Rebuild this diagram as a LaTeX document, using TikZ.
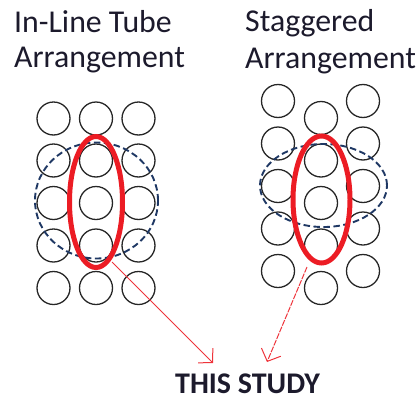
\documentclass[tikz,border=0pt]{standalone}
\usepackage{fontspec}
\setmainfont{Carlito}
\usetikzlibrary{arrows.meta,shapes.geometric}
\definecolor{tubered}{RGB}{236,28,36}
\definecolor{zonenavy}{RGB}{31,56,100}
\definecolor{inkdark}{RGB}{28,26,44}
\begin{document}
\begin{tikzpicture}[x=1pt,y=-1pt,
  tube/.style={circle,draw=black!85,line width=1.3pt,minimum size=33pt,inner sep=0pt},
  studyband/.style={ellipse,draw=tubered,line width=5pt,inner sep=0pt},
  zone/.style={ellipse,draw=zonenavy,line width=1.9pt,dash pattern=on 6.5pt off 3.5pt,inner sep=0pt},
  heading/.style={anchor=base west,inner sep=0pt,font=\fontsize{31.8}{32}\selectfont,text=inkdark},
  pointer/.style={draw=tubered!90,line width=1pt,-{Straight Barb[length=10pt,width=21pt,line width=1pt]}}]
\useasboundingbox (0,0) rectangle (420,399);

% headings
\node[heading] (h1a) at (14,32) {In-Line Tube};
\node[heading] (h1b) at (14,67) {Arrangement};
\node[heading] (h2a) at (245,31) {Staggered};
\node[heading] (h2b) at (245,68) {Arrangement};

% in-line bank: 3 columns x 5 rows
\foreach \c/\x in {1/53.5,2/96,3/138.5}
  \foreach \r/\y in {1/118.5,2/160.5,3/203,4/245.5,5/288}
    \node[tube] (il\c\r) at (\x,\y) {};

% staggered bank: outer columns and shifted middle column
\foreach \c/\x in {1/278,3/363}
  \foreach \r/\y in {1/101,2/143.5,3/186,4/228.5,5/271}
    \node[tube] (st\c\r) at (\x,\y) {};
\foreach \r/\y in {1/118,2/160.5,3/203,4/245.5,5/288}
  \node[tube] (st2\r) at (321,\y) {};

% dashed zones
\node[zone,minimum width=123pt,minimum height=116pt] (zoneA) at (96.5,200.5) {};
\node[zone,minimum width=127pt,minimum height=83pt] (zoneB) at (323.5,185.5) {};

% studied columns
\node[studyband,minimum width=53pt,minimum height=131pt] (bandA) at (96,202) {};
\node[studyband,minimum width=57pt,minimum height=127pt] (bandB) at (321.5,199.5) {};

% label
\node[anchor=base west,inner sep=0pt,font=\fontsize{30}{30}\selectfont\bfseries,text=inkdark] (study) at (175,393) {THIS STUDY};

% pointers
\coordinate (fromA) at (112,262);
\coordinate (tipA) at (213,363);
\coordinate (fromB) at (307,267);
\coordinate (tipB) at (267,362);
\draw[pointer] (fromA) -- (tipA);
\draw[pointer,dash pattern=on 6pt off 1.2pt] (fromB) -- (tipB);
\end{tikzpicture}
\end{document}
